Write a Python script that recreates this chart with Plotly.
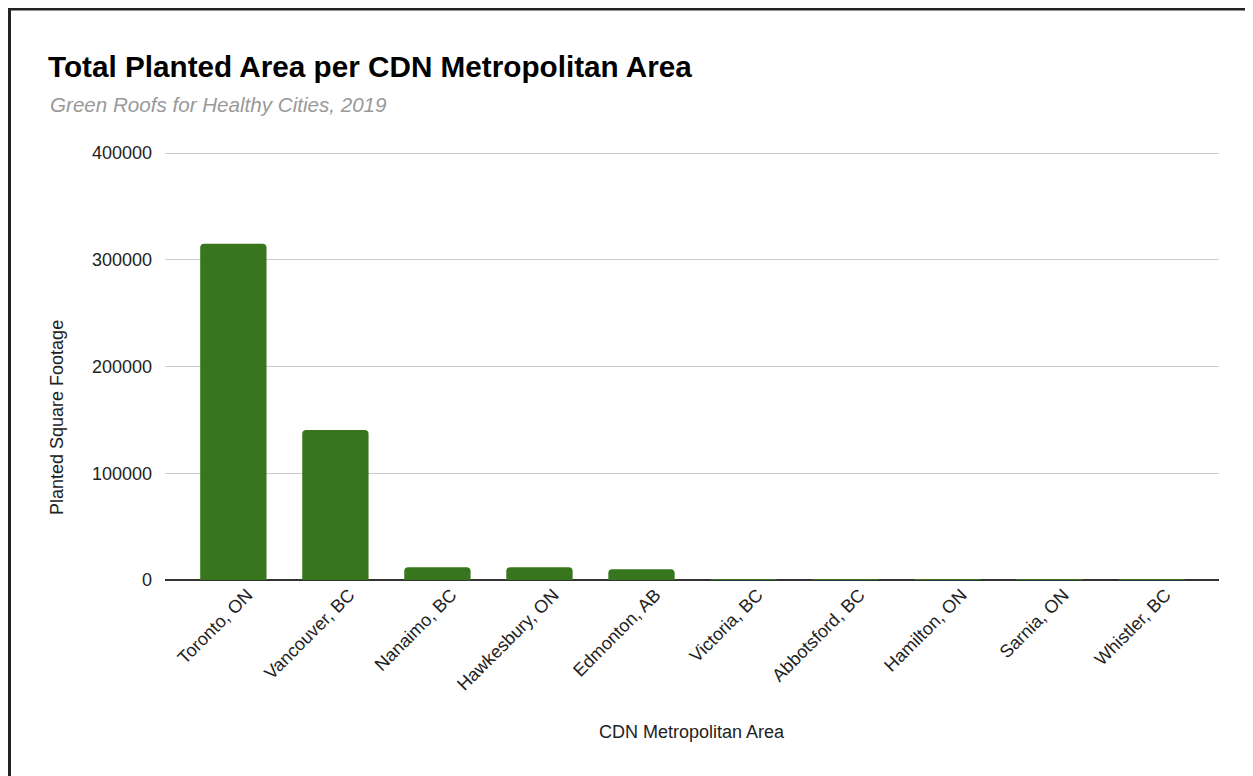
import plotly.graph_objects as go

# values (planted sq ft)
cities = ['Toronto, ON', 'Vancouver, BC', 'Nanaimo, BC', 'Hawkesbury, ON', 'Edmonton, AB',
          'Victoria, BC', 'Abbotsford, BC', 'Hamilton, ON', 'Sarnia, ON', 'Whistler, BC']
planted_sqft = [315000, 140500, 11900, 11900, 10000, 700, 600, 600, 500, 150]
y_ticks = [0, 100000, 200000, 300000, 400000]

# page body has an 8px margin, so the figure is a bit smaller than the window
W, H = 1245, 768
L, R, T, B = 157, 34, 143, 196
plot_w = W - L - R
plot_h = H - T - B
y_top = 400000 * plot_h / 427  # 427 px per 400000 in the reference

fig = go.Figure()
fig.add_trace(go.Bar(
    x=cities,
    y=planted_sqft,
    marker=dict(color='#38761d', cornerradius=4, line=dict(width=0)),
))

fig.update_layout(
    width=W, height=H,
    margin=dict(l=L, r=R, t=T, b=B, autoexpand=False),
    paper_bgcolor='white',
    plot_bgcolor='white',
    font=dict(family='Arial, Liberation Sans, sans-serif', size=18, color='#222222'),
    bargap=0.35,
    showlegend=False,
    title=dict(
        text='<b>Total Planted Area per CDN Metropolitan Area</b>',
        x=40 / W, xref='container', xanchor='left',
        y=1 - 59 / H, yref='container', yanchor='middle',
        font=dict(size=29.7, color='#000000'),
    ),
)

fig.update_xaxes(
    range=[-0.67, 9.66],
    tickangle=-45,
    showgrid=False,
    showline=False,
    ticks='',
    ticklabelshift=14,
    tickfont=dict(size=18, color='#222222'),
)
fig.update_yaxes(
    range=[0, y_top],
    tickvals=y_ticks,
    ticktext=[str(v) for v in y_ticks],
    showgrid=True,
    gridcolor='#cccccc',
    gridwidth=1,
    zeroline=True,
    zerolinecolor='#333333',
    zerolinewidth=1.5,
    showline=False,
    ticks='',
    ticklabelstandoff=12,
    tickfont=dict(size=18, color='#222222'),
)

# subtitle and axis titles
fig.add_annotation(text='<i>Green Roofs for Healthy Cities, 2019</i>',
                   xref='paper', yref='paper', x=(40 - L) / plot_w, y=(plot_h - (96 - T)) / plot_h,
                   xanchor='left', yanchor='middle', showarrow=False,
                   font=dict(size=20.6, color='#999999'))
fig.add_annotation(text='Planted Square Footage', textangle=-90,
                   xref='paper', yref='paper', x=(49 - L) / plot_w, y=(plot_h - (410 - T)) / plot_h,
                   xanchor='center', yanchor='middle', showarrow=False,
                   font=dict(size=18, color='#222222'))
fig.add_annotation(text='CDN Metropolitan Area',
                   xref='paper', yref='paper', x=0.5, y=(plot_h - (724 - T)) / plot_h,
                   xanchor='center', yanchor='middle', showarrow=False,
                   font=dict(size=18, color='#222222'))

# frame around the chart (right and bottom edges fall outside the picture)
fig.add_shape(type='rect', xref='paper', yref='paper',
              x0=(1.5 - L) / plot_w, x1=(1270 - L) / plot_w,
              y0=(plot_h - (800 - T)) / plot_h, y1=(plot_h - (1 - T)) / plot_h,
              line=dict(color='#222222', width=3), layer='above')

fig.write_html('out.html')
